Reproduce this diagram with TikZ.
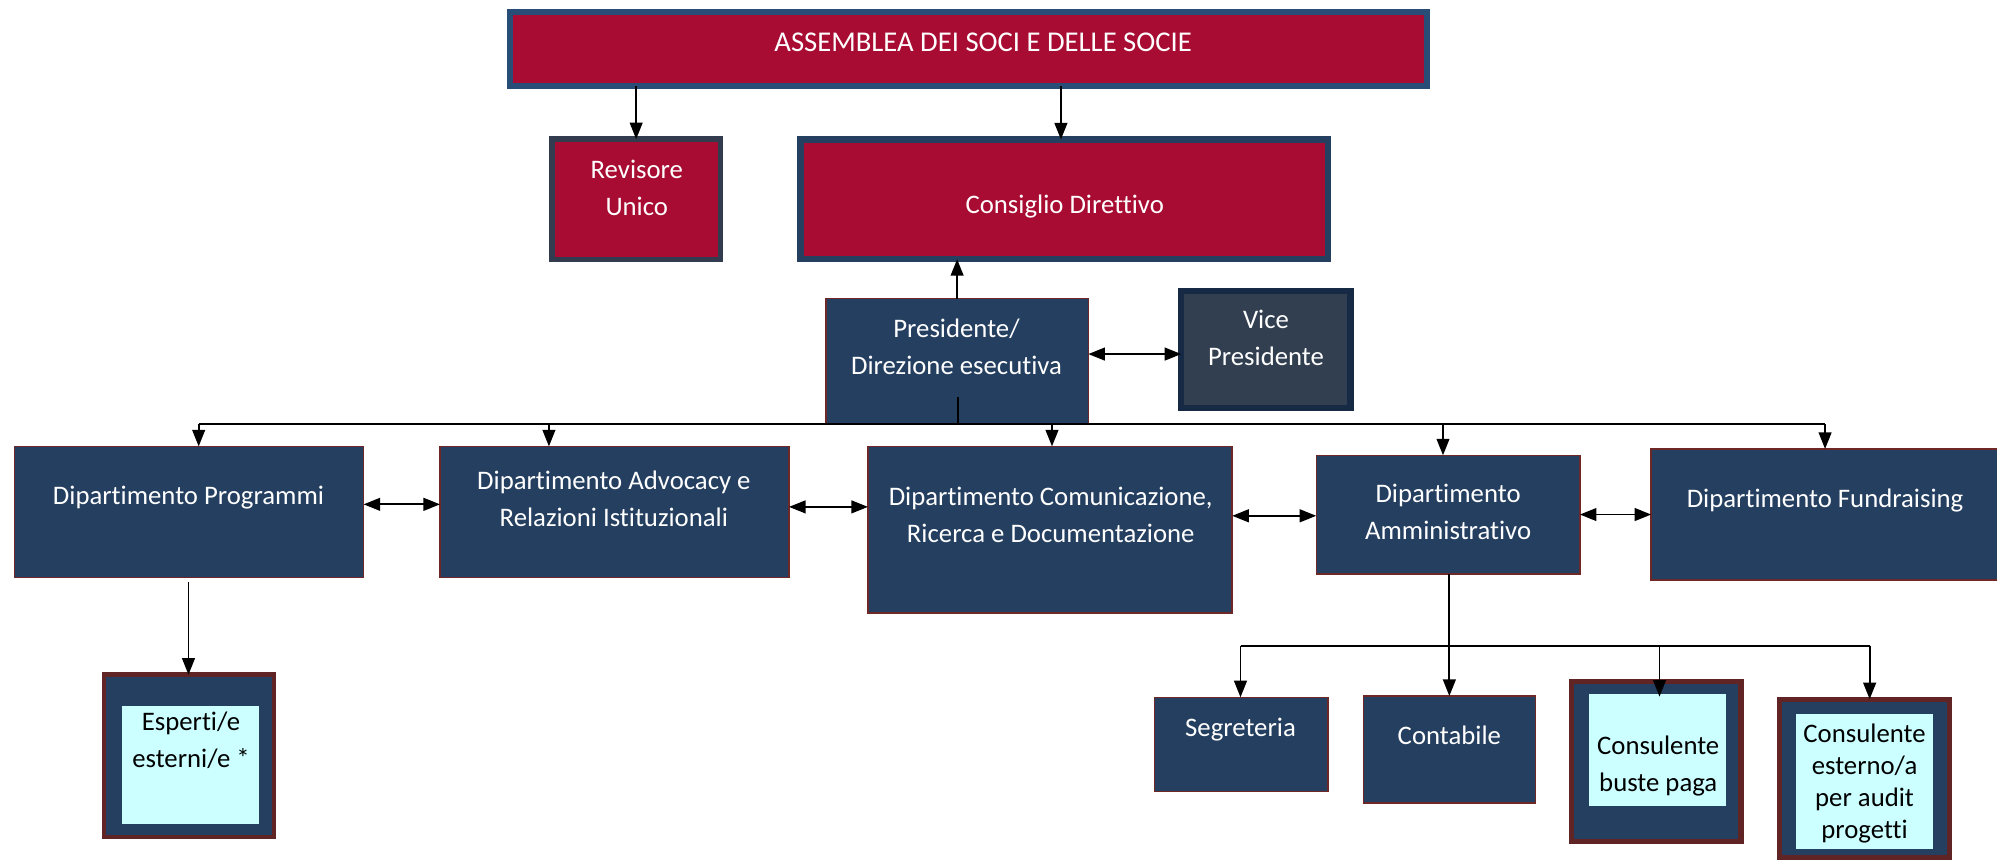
\documentclass[tikz,border=0pt]{standalone}
\usepackage{fontspec}
\setmainfont{Carlito}[Ligatures={NoCommon}]
\usetikzlibrary{arrows.meta}
\definecolor{crimson}{RGB}{168,12,50}
\definecolor{assborder}{RGB}{40,78,120}
\definecolor{revborder}{RGB}{50,60,78}
\definecolor{navy}{RGB}{37,63,96}
\definecolor{slate}{RGB}{50,63,80}
\definecolor{viceborder}{RGB}{22,42,70}
\definecolor{darkred}{RGB}{110,40,40}
\definecolor{frred}{RGB}{96,36,36}
\definecolor{lcyan}{RGB}{204,255,255}
\newcommand{\fsz}{\fontsize{21}{29}\selectfont}
\tikzset{
  box/.style={rectangle, inner sep=0pt, outer sep=0pt},
  redbox/.style={box, fill=crimson},
  navybox/.style={box, fill=navy, draw=darkred, line width=1.2pt},
  framebox/.style={box, fill=navy, draw=frred, line width=3.5pt},
  cyanbox/.style={box, fill=lcyan},
  wtxt/.style={text=white, align=center, font=\fsz, inner sep=0pt},
  btxt/.style={text=black, align=center, font=\fsz, inner sep=0pt},
  conn/.style={line width=1.5pt, draw=black},
  arr/.style={conn, -{Triangle[length=13pt,width=10pt]}},
  darr/.style={conn, {Triangle[length=13pt,width=10pt]}-{Triangle[length=13pt,width=10pt]}}
}
\begin{document}
\begin{tikzpicture}[x=1pt,y=-1pt]
\path[use as bounding box, fill=white] (0,0) rectangle (1568,676);

% top level
\node[redbox, draw=assborder, line width=5pt, minimum width=720pt, minimum height=58pt] (ass) at (760.5,38.5) {};
\node[wtxt, font=\fontsize{22.5}{29}\selectfont] (assT) at (772,33) {ASSEMBLEA DEI SOCI E DELLE SOCIE};

\node[redbox, draw=revborder, line width=4.5pt, minimum width=132.5pt, minimum height=94.5pt] (rev) at (499.5,156.5) {};
\node[wtxt] (revT) at (500,147.5) {Revisore\\Unico};

\node[redbox, draw=navy, line width=5pt, minimum width=414pt, minimum height=94pt] (cons) at (835.5,156.5) {};
\node[wtxt] (consT) at (836,162) {Consiglio Direttivo};

\node[navybox, minimum width=206pt, minimum height=98pt] (pres) at (751.5,283.5) {};
\node[wtxt] (presT) at (751,272) {Presidente/\\Direzione esecutiva};

\node[box, fill=slate, draw=viceborder, line width=5pt, minimum width=133pt, minimum height=92pt] (vice) at (994,274.5) {};
\node[wtxt] (viceT) at (994,265) {Vice\\Presidente};

% departments
\node[navybox, minimum width=274pt, minimum height=103pt] (prog) at (148.5,402) {};
\node[wtxt] (progT) at (148,391) {Dipartimento Programmi};

\node[navybox, minimum width=274pt, minimum height=103pt] (adv) at (482.5,402) {};
\node[wtxt] (advT) at (482,391.5) {Dipartimento Advocacy e\\Relazioni Istituzionali};

\node[navybox, minimum width=286pt, minimum height=131pt] (com) at (824.5,416) {};
\node[wtxt] (comT) at (825,404.5) {Dipartimento Comunicazione,\\Ricerca e Documentazione};

\node[navybox, minimum width=207pt, minimum height=93pt] (amm) at (1137,404) {};
\node[wtxt] (ammT) at (1137,402) {Dipartimento\\Amministrativo};

\node[navybox, minimum width=275pt, minimum height=103pt] (fund) at (1434,404) {};
\node[wtxt] (fundT) at (1433,393) {Dipartimento Fundraising};

% lower level
\node[framebox, minimum width=133.5pt, minimum height=127.5pt] (esp) at (148.5,593.5) {};
\node[cyanbox, minimum width=107pt, minimum height=93pt] (espI) at (149.5,600.5) {};
\node[btxt] (espT) at (150,581.5) {Esperti/e\\esterni/e *};

\node[navybox, minimum width=136pt, minimum height=74pt] (seg) at (974.5,584.5) {};
\node[wtxt] (segT) at (974,573) {Segreteria};

\node[navybox, minimum width=135pt, minimum height=84pt] (cont) at (1138,588.5) {};
\node[wtxt] (contT) at (1138,577) {Contabile};

\node[framebox, line width=4pt, minimum width=133pt, minimum height=126pt] (bus) at (1300.5,598) {};
\node[cyanbox, minimum width=107pt, minimum height=88pt] (busI) at (1301.5,589) {};
\node[btxt] (busT) at (1302,601.5) {Consulente\\buste paga};

\node[framebox, line width=4pt, minimum width=134pt, minimum height=124pt] (aud) at (1464,611) {};
\node[cyanbox, minimum width=108pt, minimum height=106pt] (audI) at (1464,614) {};
\node[btxt, font=\fontsize{21}{25}\selectfont] (audT) at (1464,615) {Consulente\\esterno/a\\per audit\\progetti};

% connectors top
\draw[arr] (ass.south -| rev.north) -- (rev.north);
\draw[arr] (ass.south -| 833,0) -- (833,0 |- cons.north);
\draw[arr] (pres.north) -- (pres.north |- cons.south);
\draw[darr] (pres.east |- 0,278) -- (vice.west |- 0,278);

% bus
\coordinate (stem) at (752,312);
\coordinate (busL) at (156,333);
\coordinate (busR) at (1433,333);
\draw[conn] (stem) -- (stem |- busL);
\draw[conn] (busL) -- (busR);
\draw[arr] (busL) -- (busL |- prog.north);
\draw[arr] (busL -| 431,0) -- (431,0 |- adv.north);
\draw[arr] (busL -| 826,0) -- (826,0 |- com.north);
\draw[arr] (busL -| 1133,0) -- (1133,0 |- amm.north);
\draw[arr] (busR) -- (busR |- fund.north);

% horizontal double arrows
\draw[darr] (prog.east |- 0,396) -- (adv.west |- 0,396);
\draw[darr] (adv.east |- 0,398) -- (com.west |- 0,398);
\draw[darr] (com.east |- 0,405) -- (amm.west |- 0,405);
\draw[darr] (amm.east |- 0,404) -- (fund.west |- 0,404);

% programmi -> esperti
\draw[arr] (148,457) -- (148,0 |- esp.north);

% amministrativo branch
\coordinate (brL) at (974,507);
\coordinate (brR) at (1468,507);
\draw[conn] (brL) -- (brR);
\draw[arr] (amm.south -| 1138,0) -- (1138,0 |- cont.north);
\draw[arr] (brL) -- (brL |- seg.north);
\draw[arr] (brL -| 1303,0) -- (1303,547);
\draw[arr] (brR) -- (brR |- aud.north);
\end{tikzpicture}
\end{document}
